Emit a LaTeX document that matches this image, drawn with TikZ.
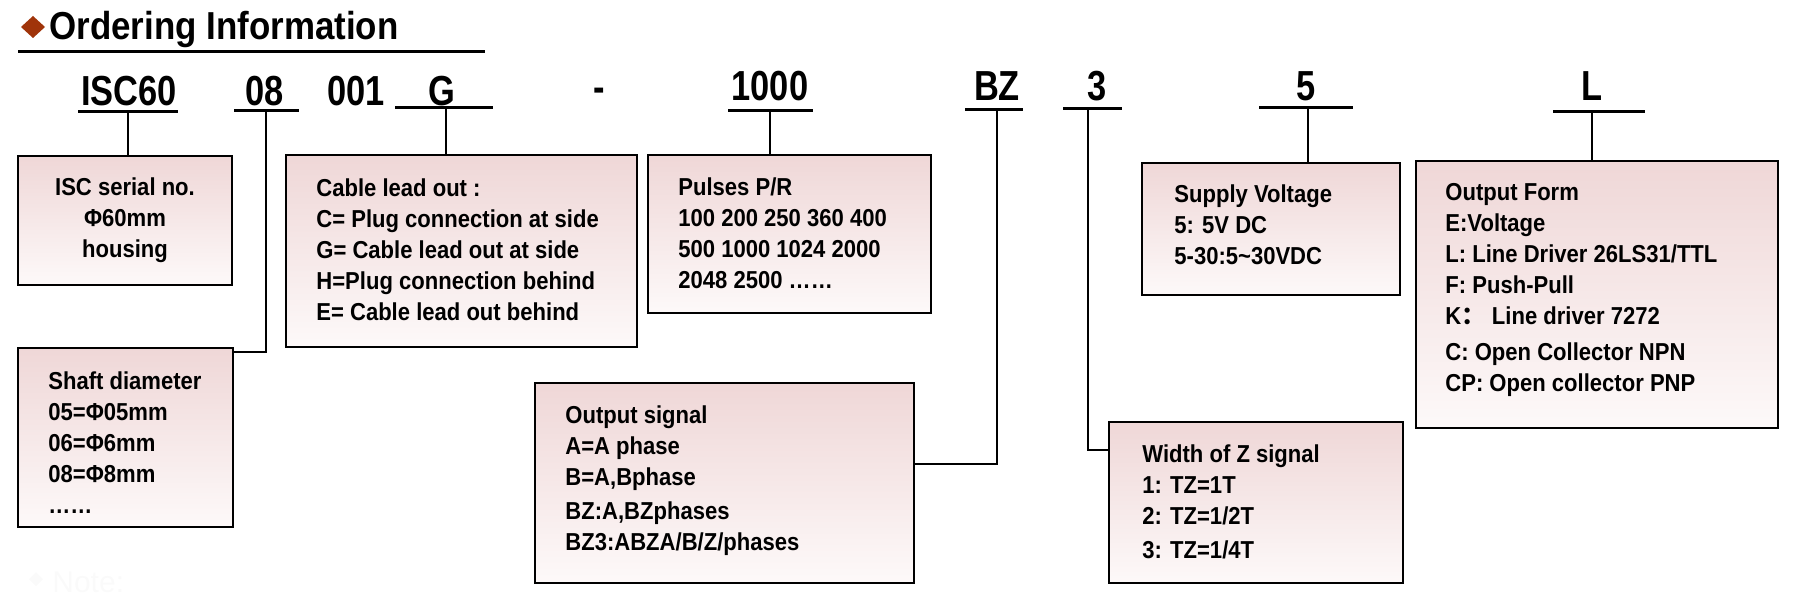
\documentclass[tikz,border=0pt]{standalone}
\usepackage{fontspec}
\setmainfont{Liberation Sans}
\newfontfamily\bodyf[FakeStretch=0.90]{Liberation Sans}
\newfontfamily\codef[FakeStretch=0.82]{Liberation Sans}
\newfontfamily\titlef[FakeStretch=0.895]{Liberation Sans}
\newfontfamily\cjk{Noto Sans CJK SC}
\usetikzlibrary{fit}
\definecolor{diam}{RGB}{160,52,10}
\definecolor{boxtop}{RGB}{239,215,215}
\definecolor{boxbot}{RGB}{253,249,249}
\newcommand\fl{\rule{0pt}{10pt}}
\tikzset{
  box/.style={draw=black, line width=1pt, inner sep=0pt, top color=boxtop, bottom color=boxbot},
  txt/.style={anchor=north west, inner sep=0pt, align=left, font=\bodyf\bfseries\fontsize{12.25}{15.5}\selectfont},
  code/.style={anchor=base, inner sep=0pt, font=\codef\bfseries\fontsize{21}{24}\selectfont},
  uline/.style={line width=1.5pt},
  conn/.style={line width=1.3pt},
}
\begin{document}
\begin{tikzpicture}[x=0.5pt,y=-0.5pt]
\useasboundingbox (0,0) rectangle (1804,599);
% title
\fill[diam] (33,16) -- (45,27) -- (33,38) -- (21,27) -- cycle;
\node[anchor=base west, inner sep=0pt, font=\titlef\bfseries\fontsize{19.5}{22}\selectfont] (title) at (49,40) {Ordering Information};
\draw[uline] (18,52) -- (485,52);
% faint note
\fill[black!2] (36,572) -- (43,579) -- (36,586) -- (29,579) -- cycle;
\node[anchor=base west, inner sep=0pt, text=black!2, font=\fontsize{15}{18}\selectfont] (note) at (52,592) {Note:};
% codes
\node[code] (cISC) at (129,105) {ISC60};
\node[code] (c08) at (265,105) {08};
\node[code] (c001) at (356,105) {001};
\node[code] (cG) at (442,105) {G};
\node[code] (cdash) at (599,102) {-};
\node[code] (c1000) at (770,101) {1000};
\node[code] (cBZ) at (997,101) {BZ};
\node[code] (c3) at (1097,101) {3};
\node[code] (c5) at (1306,101) {5};
\node[code] (cL) at (1592,101) {L};
% underlines
\draw[uline] (78,112) -- (178,112);
\draw[uline] (234,111) -- (299,111);
\draw[uline] (395,108) -- (493,108);
\draw[uline] (728,111) -- (813,111);
\draw[uline] (965,110) -- (1023,110);
\draw[uline] (1063,109) -- (1122,109);
\draw[uline] (1259,108) -- (1353,108);
\draw[uline] (1553,112) -- (1645,112);
% tap points
\coordinate (tISC) at (128,112);
\coordinate (t08) at (266,111);
\coordinate (tG) at (446,108);
\coordinate (t1000) at (770,111);
\coordinate (tBZ) at (997,110);
\coordinate (t3) at (1088,109);
\coordinate (t5) at (1308,108);
\coordinate (tL) at (1592,112);
% boxes
\node[box, fit={(18,156) (232,285)}] (isc) {};
\node[box, fit={(18,348) (233,527)}] (shaft) {};
\node[box, fit={(286,155) (637,347)}] (cable) {};
\node[box, fit={(648,155) (931,313)}] (pulses) {};
\node[box, fit={(535,383) (914,583)}] (outsig) {};
\node[box, fit={(1142,163) (1400,295)}] (supply) {};
\node[box, fit={(1416,161) (1778,428)}] (outform) {};
\node[box, fit={(1109,422) (1403,583)}] (widthz) {};
% texts
\node[txt, anchor=north, align=center] (iscT) at (125,175) {\fl ISC serial no.\\ Φ60mm\\ housing};
\node[txt] (shaftT) at (48,369) {\fl Shaft diameter\\05=Φ05mm\\06=Φ6mm\\08=Φ8mm\\……};
\node[txt] (cableT) at (316,176) {\fl Cable lead out :\\C= Plug connection at side\\G= Cable lead out at side\\H=Plug connection behind\\E= Cable lead out behind};
\node[txt] (pulsesT) at (678,175) {\fl Pulses P/R\\100 200 250 360 400\\500 1000 1024 2000\\2048 2500 ……};
\node[txt] (supplyT) at (1174,182) {\fl Supply Voltage\\5: 5V DC\\5-30:5\textasciitilde30VDC};
\node[txt] (outformT) at (1445,180) {\fl Output Form\\E:Voltage\\L: Line Driver 26LS31/TTL\\F: Push-Pull\\K{\cjk ：} Line driver 7272\\[2.5pt]C: Open Collector NPN\\CP: Open collector PNP};
\node[txt] (outsigT) at (565,403) {\fl Output signal\\A=A phase\\B=A,Bphase\\[1.5pt]BZ:A,BZphases\\BZ3:ABZA/B/Z/phases};
\node[txt] (widthzT) at (1142,442) {\fl Width of Z signal\\1: TZ=1T\\2: TZ=1/2T\\[1.5pt]3: TZ=1/4T};
% connectors
\coordinate (k08) at (266,352);
\coordinate (kBZ) at (997,464);
\coordinate (k3) at (1088,450);
\draw[conn] (tISC) -- (tISC |- isc.north);
\draw[conn] (t08) -- (k08) -- (k08 -| shaft.east);
\draw[conn] (tG) -- (tG |- cable.north);
\draw[conn] (t1000) -- (t1000 |- pulses.north);
\draw[conn] (tBZ) -- (kBZ) -- (kBZ -| outsig.east);
\draw[conn] (t3) -- (k3) -- (k3 -| widthz.west);
\draw[conn] (t5) -- (t5 |- supply.north);
\draw[conn] (tL) -- (tL |- outform.north);
\end{tikzpicture}
\end{document}
